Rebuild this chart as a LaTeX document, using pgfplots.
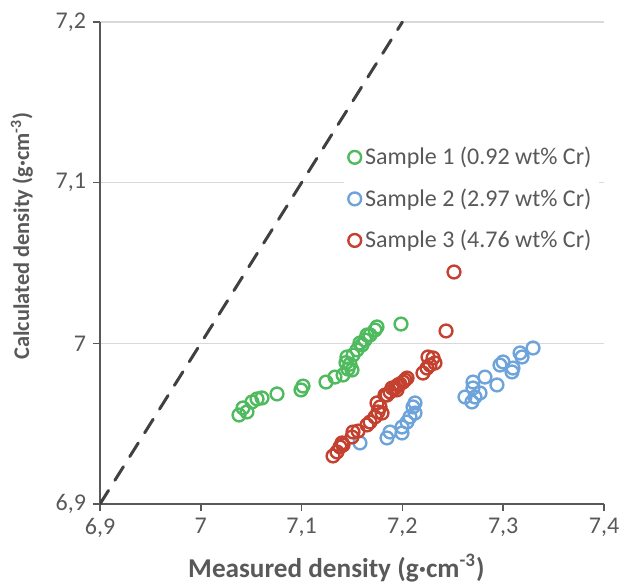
\documentclass[border=0pt]{standalone}
\usepackage{pgfplots}
\pgfplotsset{compat=1.18}
\usepackage{fontspec}
\setmainfont{Carlito}
\definecolor{cgreen}{HTML}{4FBA5E}
\definecolor{cblue}{HTML}{6FA4DA}
\definecolor{cred}{HTML}{C4402F}
\definecolor{ctext}{HTML}{595959}
\definecolor{cgrid}{HTML}{D9D9D9}
\definecolor{cdash}{HTML}{404040}
\begin{document}
\begin{tikzpicture}
\path[use as bounding box] (-50pt,-40pt) rectangle (260pt,252pt);
\begin{axis}[
  at={(0,0)}, anchor=south west,
  scale only axis, width=252pt, height=241pt,
  xmin=6.9, xmax=7.4, ymin=6.9, ymax=7.2,
  xtick={6.9,7,7.1,7.2,7.3,7.4},
  ytick={6.9,7,7.1,7.2},
  /pgf/number format/use comma,
  /pgf/number format/assume math mode=true,
  tick label style={font=\fontsize{12}{14}\selectfont, text=ctext},
  axis x line*=bottom, axis y line*=left,
  axis line style={ctext, line width=0.8pt, -},
  tick align=outside, major tick length=3.5pt,
  tick style={ctext, line width=0.8pt},
  ymajorgrids, grid style={cgrid, line width=0.6pt},
  xlabel={Measured density (g·cm\textsuperscript{-3})},
  ylabel={Calculated density (g·cm\textsuperscript{-3})},
  xlabel style={font=\bfseries\fontsize{13.6}{15}\selectfont, text=ctext, at={(axis description cs:0.469,-0.133)}, anchor=center},
  ylabel style={font=\bfseries\fontsize{11.2}{13}\selectfont, text=ctext, at={(axis description cs:-0.155,0.556)}, anchor=center, rotate=0},
  legend style={at={(axis description cs:0.484,0.758)}, anchor=north west,
    fill=white, draw=none, font=\fontsize{12}{14}\selectfont, text=ctext,
    row sep=6.5pt, inner sep=2pt},
  legend cell align=left,
  every axis plot/.append style={only marks, mark=o, mark size=3.2pt, line width=1.2pt},
]
\addplot[cgreen, mark options={cgreen}] coordinates {
(7.0379,6.9554)(7.0419,6.9598)(7.0458,6.9573)(7.0508,6.9635)(7.0558,6.9654)
(7.0607,6.9660)(7.0756,6.9685)(7.0994,6.9710)(7.1014,6.9734)(7.1242,6.9759)
(7.1331,6.9790)(7.1411,6.9803)(7.1460,6.9840)(7.1500,6.9834)(7.1450,6.9915)
(7.1510,6.9927)(7.1550,6.9959)(7.1579,7.0002)(7.1599,6.9990)(7.1629,7.0021)
(7.1649,7.0052)(7.1679,7.0052)(7.1728,7.0083)(7.1748,7.0102)(7.1986,7.0120)
(7.1440,6.9880)(7.1480,6.9870)
};
\addlegendentry{Sample 1 (0.92 wt\% Cr)}
\addplot[cblue, mark options={cblue}] coordinates {
(7.1579,6.9380)(7.1847,6.9411)(7.1877,6.9448)(7.1996,6.9442)(7.1996,6.9479)
(7.2046,6.9510)(7.2075,6.9542)(7.2125,6.9566)(7.2105,6.9604)(7.2125,6.9629)
(7.2621,6.9666)(7.2690,6.9635)(7.2720,6.9666)(7.2770,6.9691)(7.2700,6.9722)
(7.2700,6.9759)(7.2819,6.9790)(7.2938,6.9741)(7.2968,6.9865)(7.2998,6.9884)
(7.3087,6.9822)(7.3097,6.9846)(7.3167,6.9940)(7.3187,6.9915)(7.3296,6.9971)
};
\addlegendentry{Sample 2 (2.97 wt\% Cr)}
\addplot[cred, mark options={cred}] coordinates {
(7.1312,6.9299)(7.1351,6.9324)(7.1381,6.9355)(7.1401,6.9380)(7.1411,6.9367)
(7.1500,6.9417)(7.1510,6.9448)(7.1560,6.9454)(7.1649,6.9492)(7.1679,6.9510)
(7.1728,6.9542)(7.1748,6.9629)(7.1758,6.9573)(7.1778,6.9604)(7.1798,6.9566)
(7.1827,6.9678)(7.1847,6.9678)(7.1877,6.9697)(7.1897,6.9722)(7.1927,6.9722)
(7.1946,6.9710)(7.1956,6.9741)(7.1976,6.9747)(7.2006,6.9759)(7.2026,6.9772)
(7.2046,6.9784)(7.2204,6.9815)(7.2244,6.9846)(7.2254,6.9915)(7.2274,6.9865)
(7.2304,6.9909)(7.2323,6.9878)(7.2433,7.0077)(7.2512,7.0444)
};
\addlegendentry{Sample 3 (4.76 wt\% Cr)}
\addplot[cdash, no marks, line width=1.5pt, dash pattern=on 8pt off 6pt, line cap=round, forget plot, sharp plot]
  coordinates {(6.9,6.9)(7.2,7.2)};
\end{axis}
\end{tikzpicture}
\end{document}
